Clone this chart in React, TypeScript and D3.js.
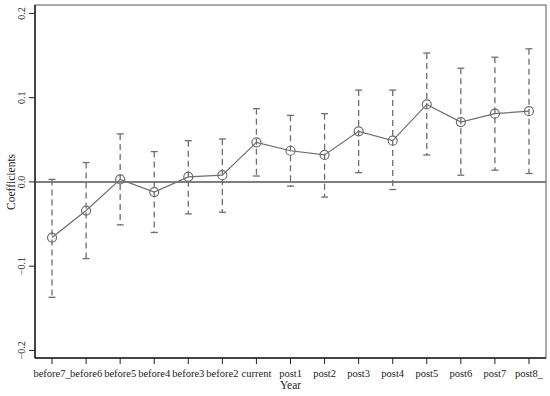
import { useMemo } from 'react'
import * as d3 from 'd3'

// Event-study coefficients with confidence intervals
const CATEGORIES = [
  'before7_', 'before6', 'before5', 'before4', 'before3', 'before2', 'current',
  'post1', 'post2', 'post3', 'post4', 'post5', 'post6', 'post7', 'post8_',
]
const COEF = [-0.066, -0.034, 0.003, -0.012, 0.006, 0.008, 0.047, 0.037, 0.032, 0.060, 0.049, 0.092, 0.071, 0.081, 0.084]
const UPPER = [0.003, 0.023, 0.057, 0.036, 0.049, 0.051, 0.087, 0.079, 0.081, 0.109, 0.109, 0.153, 0.135, 0.148, 0.158]
const LOWER = [-0.137, -0.091, -0.051, -0.060, -0.038, -0.036, 0.007, -0.005, -0.018, 0.011, -0.009, 0.032, 0.008, 0.014, 0.010]
const Y_TICKS = [-0.2, -0.1, 0, 0.1, 0.2]

const FONT = '"Liberation Serif", "Times New Roman", serif'

export default function App() {
  const width = 550
  const height = 396
  const margin = { top: 5, right: 4, bottom: 38, left: 35 }
  const innerW = width - margin.left - margin.right
  const innerH = height - margin.top - margin.bottom

  const x = useMemo(() => d3.scalePoint<string>().domain(CATEGORIES).range([0, innerW]).padding(0.5), [innerW])
  const y = useMemo(() => d3.scaleLinear().domain([-0.209, 0.21]).range([innerH, 0]), [innerH])

  const line = d3.line<number>()
    .x((_, i) => x(CATEGORIES[i]) as number)
    .y(d => y(d))

  const gray = '#6e6e6e'

  return (
    <svg width={width} height={height} style={{ position: 'absolute', left: 0, top: 0, background: '#fff' }}>
      <g transform={`translate(${margin.left},${margin.top})`}>
        {/* frame */}
        <rect x={0} y={0} width={innerW} height={innerH} fill="none" stroke="#555" strokeWidth={1} />
        <line x1={0} x2={0} y1={0} y2={innerH} stroke="#222" strokeWidth={1.5} />
        <line x1={0} x2={innerW} y1={innerH} y2={innerH} stroke="#222" strokeWidth={1.5} />

        {/* zero line */}
        <line x1={0} x2={innerW} y1={y(0)} y2={y(0)} stroke="#555" strokeWidth={1.5} />

        {/* y axis ticks */}
        {Y_TICKS.map(t => (
          <g key={t} transform={`translate(0,${y(t)})`}>
            <line x1={-6} x2={0} stroke="#222" />
            <text
              transform="translate(-10,0) rotate(-90)"
              textAnchor="middle"
              fontFamily={FONT}
              fontSize={10}
              fill="#222"
            >
              {t === 0 ? '0.0' : d3.format('.1f')(t)}
            </text>
          </g>
        ))}

        {/* x axis ticks */}
        {CATEGORIES.map(c => (
          <g key={c} transform={`translate(${x(c)},${innerH})`}>
            <line y1={0} y2={6} stroke="#222" />
            <text y={19} textAnchor="middle" fontFamily={FONT} fontSize={10.5} fill="#222">{c}</text>
          </g>
        ))}

        {/* error bars */}
        {CATEGORIES.map((c, i) => {
          const cx = x(c) as number
          return (
            <g key={c} stroke={gray} strokeWidth={1.3}>
              <line x1={cx} x2={cx} y1={y(UPPER[i])} y2={y(LOWER[i])} strokeDasharray="6,4" />
              <line x1={cx - 3.5} x2={cx + 3.5} y1={y(UPPER[i])} y2={y(UPPER[i])} />
              <line x1={cx - 3.5} x2={cx + 3.5} y1={y(LOWER[i])} y2={y(LOWER[i])} />
            </g>
          )
        })}

        {/* coefficient line */}
        <path d={line(COEF) ?? ''} fill="none" stroke={gray} strokeWidth={1.2} />
        {COEF.map((v, i) => (
          <circle key={i} cx={x(CATEGORIES[i]) as number} cy={y(v)} r={4.5} fill="none" stroke={gray} strokeWidth={1.2} />
        ))}
      </g>

      {/* axis titles */}
      <text x={margin.left + innerW / 2} y={389} textAnchor="middle" fontFamily={FONT} fontSize={11.5} fill="#222">Year</text>
      <text
        transform={`translate(15,${margin.top + y(0)}) rotate(-90)`}
        textAnchor="middle"
        fontFamily={FONT}
        fontSize={11.5}
        fill="#222"
      >
        Coefficients
      </text>
    </svg>
  )
}
